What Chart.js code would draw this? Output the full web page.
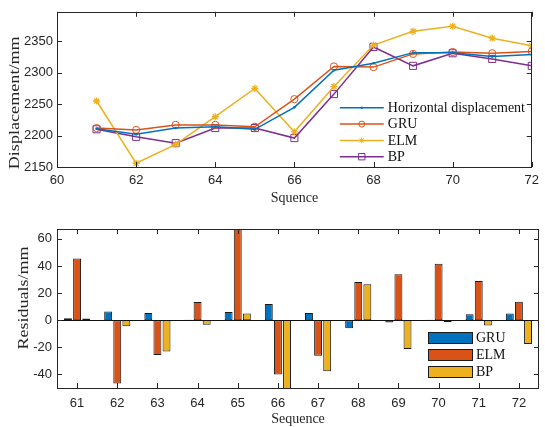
<!DOCTYPE html>
<html><head><meta charset="utf-8">
<script src="https://cdn.jsdelivr.net/npm/chart.js@4/dist/chart.umd.min.js"></script>
<style>
html,body{margin:0;padding:0;background:#fff;}
#c1{position:absolute;left:0;top:0;}
#c2{position:absolute;left:0;top:210px;}
</style></head><body>
<canvas id="c1" width="545" height="210"></canvas>
<canvas id="c2" width="545" height="217"></canvas>
<script>
// ---- data ----
const sequence = [61,62,63,64,65,66,67,68,69,70,71,72];
const horizontal = [2211,2202,2212,2214,2210,2245,2304,2315,2332,2332,2326,2329];
const gru = [2212,2209,2217,2217,2214,2258,2310,2309,2330,2333,2331,2334];
const elm = [2255,2156,2186,2230,2275,2206,2278,2344,2366,2374,2355,2343];
const bp  = [2210,2198,2188,2212,2212,2196,2266,2341,2311,2331,2322,2311];
const xTicksTop = [60,62,64,66,68,70,72];
const yTicksTop = [2150,2200,2250,2300,2350];

const residualCategories = ['61','62','63','64','65','66','67','68','69','70','71','72'];
const residGRU = [1.5,6.4,5.4,0.3,6.1,12,5.4,-5.9,-1.7,0.3,4.4,4.9];
const residELM = [45.6,-46.6,-25.7,13.5,68,-40,-26.2,28.2,34,41.7,28.9,13.7];
const residBP  = [1.2,-4.4,-23,-3.4,4.9,-51,-37.7,26.5,-21.3,-1.5,-3.9,-17.6];
const yTicksBottom = [-40,-20,0,20,40,60];

// ---- style ----
const C_BLUE='#0072BD', C_ORANGE='#D95319', C_YELLOW='#EDB120', C_PURPLE='#7E2F8E';
const AX='#262626';
const tickFont={family:'"Liberation Sans", Arial, sans-serif', size:13};
const serif='"Liberation Serif", "Times New Roman", serif';
const plainNum=v=>String(v);

function drawMarker(ctx, style, x, y, r, color, lw){
  ctx.save(); ctx.strokeStyle=color; ctx.fillStyle=color; ctx.lineWidth=lw;
  ctx.beginPath();
  if(style==='dot'){ctx.arc(x,y,r,0,2*Math.PI); ctx.fill();}
  else if(style==='circle'){ctx.arc(x,y,r,0,2*Math.PI); ctx.stroke();}
  else if(style==='rect'){const s=r/Math.SQRT2; ctx.rect(x-s,y-s,2*s,2*s); ctx.stroke();}
  else if(style==='star'){
    ctx.moveTo(x-r,y);ctx.lineTo(x+r,y);ctx.moveTo(x,y-r);ctx.lineTo(x,y+r);
    const d=r*0.707; ctx.moveTo(x-d,y-d);ctx.lineTo(x+d,y+d);ctx.moveTo(x-d,y+d);ctx.lineTo(x+d,y-d);
    ctx.stroke();
  }
  ctx.restore();
}

const framePlugin={id:'frame', afterDatasetsDraw(chart){
  const {ctx, chartArea:a, scales}=chart; const L=5;
  ctx.save(); ctx.strokeStyle=AX; ctx.lineWidth=1;
  if(chart.config.type==='bar'){
    const y0=Math.round(scales.y.getPixelForValue(0))+0.5;
    ctx.beginPath(); ctx.moveTo(a.left,y0); ctx.lineTo(a.right,y0); ctx.strokeStyle='#111'; ctx.stroke();
    ctx.strokeStyle=AX;
  }
  ctx.beginPath();
  scales.x.ticks.forEach((t,i)=>{const px=Math.round(scales.x.getPixelForTick(i))+0.5;
    ctx.moveTo(px,a.bottom); ctx.lineTo(px,a.bottom-L); ctx.moveTo(px,a.top); ctx.lineTo(px,a.top+L);});
  scales.y.ticks.forEach((t)=>{const py=Math.round(scales.y.getPixelForValue(t.value))+0.5;
    ctx.moveTo(a.left,py); ctx.lineTo(a.left+L,py); ctx.moveTo(a.right,py); ctx.lineTo(a.right-L,py);});
  ctx.stroke();
  ctx.strokeRect(Math.round(a.left)+0.5, Math.round(a.top)+0.5, Math.round(a.right-a.left)-1, Math.round(a.bottom-a.top));
  ctx.restore();
}};

// rotated y-axis title, stretched along its length like the reference
const yTitlePlugin={id:'yTitle', afterDraw(chart, args, o){
  const {ctx, chartArea:a}=chart;
  ctx.save();
  ctx.font=o.size+'px '+serif; ctx.fillStyle=AX; ctx.textAlign='center'; ctx.textBaseline='middle';
  const w=ctx.measureText(o.text).width;
  ctx.translate(o.cx, a.top+o.dy);
  ctx.rotate(-Math.PI/2);
  ctx.scale(o.len/w,1);
  ctx.fillText(o.text,0,0);
  ctx.restore();
}};

const lineLegend={id:'lineLegend', afterDraw(chart){
  const {ctx, chartArea:a}=chart;
  const x0=a.right-192, x1=a.right-148, tx=a.right-144;
  ctx.save();
  ctx.font='14px '+serif; ctx.textBaseline='middle'; ctx.fillStyle='#111';
  chart.data.datasets.forEach((ds,i)=>{
    const y=a.top+96+i*16.3;
    ctx.strokeStyle=ds.borderColor; ctx.lineWidth=1.5;
    ctx.beginPath(); ctx.moveTo(x0,y); ctx.lineTo(x1,y); ctx.stroke();
    drawMarker(ctx, ds.marker, (x0+x1)/2, y, ds.marker==='dot'?1.2:(ds.marker==='rect'?4.5:3), ds.borderColor, 1);
    ctx.fillStyle='#111'; ctx.fillText(ds.label, tx, y+0.5);
  });
  ctx.restore();
}};

const barLegend={id:'barLegend', afterDraw(chart){
  const {ctx, chartArea:a}=chart;
  const bx=a.right-111, bw=45, bh=12, tx=a.right-63;
  ctx.save();
  ctx.font='14px '+serif; ctx.textBaseline='middle';
  chart.data.datasets.forEach((ds,i)=>{
    const y=a.top+103+i*17;
    ctx.fillStyle=ds.backgroundColor; ctx.fillRect(bx,y,bw,bh);
    ctx.strokeStyle='#1a1a1a'; ctx.lineWidth=1; ctx.strokeRect(bx+0.5,y+0.5,bw-1,bh-1);
    ctx.fillStyle='#111'; ctx.fillText(ds.label, tx, y+bh/2+0.5);
  });
  ctx.restore();
}};

function pts(arr){return sequence.map((x,i)=>({x:x,y:arr[i]}));}

new Chart(document.getElementById('c1'),{
  type:'line',
  data:{datasets:[
    {label:'Horizontal displacement', data:pts(horizontal), borderColor:C_BLUE, backgroundColor:C_BLUE, borderWidth:1.5,
     pointStyle:'circle', pointRadius:1.3, pointBorderWidth:0, pointBackgroundColor:C_BLUE, marker:'dot'},
    {label:'GRU', data:pts(gru), borderColor:C_ORANGE, backgroundColor:C_ORANGE, borderWidth:1.5,
     pointStyle:'circle', pointRadius:3.6, pointBorderWidth:1, pointBackgroundColor:'rgba(0,0,0,0)', pointBorderColor:C_ORANGE, marker:'circle'},
    {label:'ELM', data:pts(elm), borderColor:C_YELLOW, backgroundColor:C_YELLOW, borderWidth:1.5,
     pointStyle:'star', pointRadius:3.6, pointBorderWidth:1.3, pointBorderColor:C_YELLOW, marker:'star'},
    {label:'BP', data:pts(bp), borderColor:C_PURPLE, backgroundColor:C_PURPLE, borderWidth:1.5,
     pointStyle:'rect', pointRadius:5, pointBorderWidth:1, pointBackgroundColor:'rgba(0,0,0,0)', pointBorderColor:C_PURPLE, marker:'rect'}
  ]},
  options:{
    responsive:false, animation:false, devicePixelRatio:1,
    layout:{padding:{top:9,right:6,left:0,bottom:0}},
    plugins:{legend:{display:false}, tooltip:{enabled:false},
      yTitle:{text:'Displacement/mm', size:14.5, cx:15, dy:91, len:133}},
    scales:{
      x:{type:'linear', min:60, max:72,
         afterBuildTicks:s=>{s.ticks=xTicksTop.map(v=>({value:v}));},
         afterFit:s=>{s.height=43;},
         grid:{display:false, drawTicks:false}, border:{display:false},
         ticks:{font:tickFont, color:AX, padding:6, maxRotation:0, autoSkip:false, callback:plainNum},
         title:{display:true, text:'Squence', font:{family:serif, size:14}, color:AX, padding:{top:0,bottom:3.6}}},
      y:{min:2150, max:2397,
         afterBuildTicks:s=>{s.ticks=yTicksTop.map(v=>({value:v}));},
         afterFit:s=>{s.width=57;},
         grid:{display:false, drawTicks:false}, border:{display:false},
         ticks:{font:tickFont, color:AX, padding:4, callback:plainNum},
         title:{display:false}}
    }
  },
  plugins:[framePlugin, lineLegend, yTitlePlugin]
});

new Chart(document.getElementById('c2'),{
  type:'bar',
  data:{labels:residualCategories, datasets:[
    {label:'GRU', data:residGRU, backgroundColor:C_BLUE},
    {label:'ELM', data:residELM, backgroundColor:C_ORANGE},
    {label:'BP', data:residBP, backgroundColor:C_YELLOW}
  ].map(d=>Object.assign(d,{borderColor:'#1a1a1a', borderWidth:1, borderSkipped:false, clip:0, categoryPercentage:0.68, barPercentage:0.87}))},
  options:{
    responsive:false, animation:false, devicePixelRatio:1,
    layout:{padding:{top:19,right:6,left:0,bottom:0}},
    plugins:{legend:{display:false}, tooltip:{enabled:false},
      yTitle:{text:'Residuals/mm', size:14.5, cx:24, dy:69, len:103}},
    scales:{
      x:{type:'category', offset:true,
         afterFit:s=>{s.height=39;},
         grid:{display:false, drawTicks:false, offset:true}, border:{display:false},
         ticks:{font:tickFont, color:AX, padding:8, maxRotation:0, autoSkip:false},
         title:{display:true, text:'Sequence', font:{family:serif, size:14}, color:AX, padding:{top:0,bottom:-1}}},
      y:{min:-50, max:67.3,
         afterBuildTicks:s=>{s.ticks=yTicksBottom.map(v=>({value:v}));},
         afterFit:s=>{s.width=57;},
         grid:{display:false, drawTicks:false}, border:{display:false},
         ticks:{font:tickFont, color:AX, padding:5, callback:plainNum},
         title:{display:false}}
    }
  },
  plugins:[framePlugin, barLegend, yTitlePlugin]
});
</script>
</body></html>
